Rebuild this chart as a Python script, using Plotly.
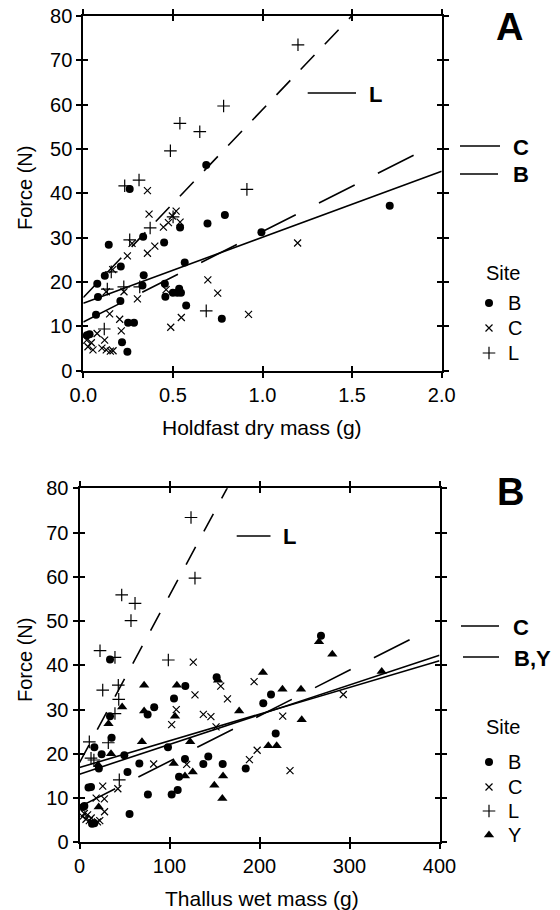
import plotly.graph_objects as go

# ---------------- Panel A data: holdfast dry mass (g) vs force (N) ----------------
A_B_x = [0.02, 0.035, 0.071, 0.078, 0.082, 0.12, 0.142, 0.207, 0.209, 0.216, 0.246, 0.25, 0.283,
         0.259, 0.33, 0.334, 0.337, 0.451, 0.455, 0.458, 0.50, 0.525, 0.535, 0.545, 0.54, 0.566,
         0.574, 0.686, 0.693, 0.773, 0.79, 0.994, 1.71]
A_B_y = [8.0, 8.2, 12.6, 19.6, 16.6, 21.4, 28.4, 15.7, 23.5, 6.4, 4.3, 10.8, 10.8,
         41.0, 19.2, 30.2, 21.5, 28.9, 19.6, 16.7, 17.6, 17.6, 18.5, 17.6, 32.3, 24.4,
         14.7, 46.4, 33.2, 11.7, 35.1, 31.2, 37.2]

A_C_x = [0.019, 0.026, 0.045, 0.054, 0.077, 0.104, 0.119, 0.128, 0.151, 0.166, 0.212, 0.203,
         0.147, 0.128, 0.227, 0.302, 0.164, 0.246, 0.272, 0.358, 0.399, 0.358, 0.367, 0.447,
         0.475, 0.497, 0.518, 0.54, 0.462, 0.488, 0.547, 0.695, 0.75, 0.922, 1.196]
A_C_y = [6.9, 5.4, 6.3, 4.7, 8.4, 5.1, 6.9, 4.7, 4.4, 4.5, 9.0, 11.6,
         12.8, 17.8, 17.8, 16.2, 22.8, 25.9, 28.7, 26.5, 28.1, 40.6, 35.3, 32.4,
         33.4, 34.9, 36.0, 33.5, 18.3, 9.8, 12.0, 20.5, 17.5, 12.7, 28.8]

A_L_x = [0.117, 0.134, 0.156, 0.226, 0.231, 0.259, 0.311, 0.315, 0.373, 0.486, 0.501, 0.539,
         0.65, 0.686, 0.783, 0.913, 1.198]
A_L_y = [9.4, 18.4, 22.3, 18.9, 41.7, 29.5, 43.0, 18.9, 32.2, 49.6, 34.7, 55.8,
         53.9, 13.5, 59.7, 40.9, 73.5]

# regression lines: intercept, slope, x start, x end
A_fit_sites = ["L", "C", "B"]
A_fit_intercept = [16.5, 11.0, 15.2]
A_fit_slope = [42.4, 20.4, 14.9]
A_fit_x0 = [0.0, 0.0, 0.0]
A_fit_x1 = [1.5, 1.85, 2.0]

# ---------------- Panel B data: thallus wet mass (g) vs force (N) ----------------
B_B_x = [4.2, 5.4, 10, 12.8, 13.9, 16.5, 16.5, 21.5, 24.6, 33.9, 33.9, 35.7, 49.8, 53.3, 55.6,
         66.5, 75.7, 76, 83, 98.3, 102.4, 105, 109.1, 110.6, 117.6, 117.2, 137.6, 143.1, 152.4,
         159.1, 184.7, 204.2, 212.8, 218, 268.3]
B_B_y = [8.0, 8.2, 12.4, 12.5, 4.2, 4.3, 21.5, 16.7, 19.9, 41.3, 28.5, 23.6, 19.7, 15.9, 6.4,
         17.8, 28.9, 10.8, 30.5, 21.5, 10.8, 32.5, 11.8, 14.8, 35.3, 18.8, 17.7, 19.4, 37.3,
         17.7, 16.7, 31.4, 33.4, 24.6, 46.7]

B_C_x = [3.5, 5.3, 7.2, 9, 10.9, 13, 18.5, 20, 22.5, 27.8, 27.6, 25.8, 42.6, 82.4, 102.4, 107.5,
         119.1, 126.4, 128.3, 137.6, 146, 151.7, 156.9, 164.4, 188.8, 194, 197.4, 225.8, 233.9, 293.1]
B_C_y = [5.8, 6.5, 5.2, 6.2, 4.9, 5.5, 10.0, 4.6, 4.9, 6.9, 9.8, 12.7, 12.1, 17.7, 26.6, 30.0,
         17.6, 40.7, 33.3, 28.9, 28.4, 26.1, 35.3, 32.4, 18.7, 36.3, 20.8, 28.5, 16.2, 33.4]

B_L_x = [10.9, 12.8, 16, 22.8, 25.8, 32, 39.4, 39.4, 43.1, 43.6, 44.2, 46.9, 57.2, 61.7, 98.7,
         123.9, 128.3]
B_L_y = [22.7, 19.0, 18.6, 43.3, 34.4, 22.5, 29.1, 41.8, 35.5, 32.3, 14.1, 55.9, 50.1, 54.0, 41.2,
         73.4, 59.7]

B_Y_x = [21.3, 20.6, 32.2, 35, 47.4, 69.4, 71.8, 71.8, 104.7, 106.1, 108.2, 117.2, 123, 125.8,
         149.8, 154, 158.7, 159.5, 177.4, 203.8, 209.8, 219.1, 225.5, 246.1, 246.9, 266.1, 280.9, 335.8]
B_Y_y = [8.0, 17.5, 26.8, 20.0, 30.6, 22.7, 29.7, 35.5, 17.8, 28.5, 35.5, 15.0, 22.7, 15.9,
         12.9, 36.6, 9.9, 15.0, 29.7, 38.4, 21.8, 21.8, 34.6, 34.6, 27.7, 45.3, 42.5, 38.6]

B_fit_sites = ["L", "C", "B", "Y"]
B_fit_intercept = [18.0, 8.0, 16.9, 15.4]
B_fit_slope = [0.378, 0.103, 0.0603, 0.0672]
B_fit_x0 = [0.0, 0.0, 0.0, 0.0]
B_fit_x1 = [164.7, 370.0, 400.0, 400.0]

A_xticks = [0.0, 0.5, 1.0, 1.5, 2.0]
B_xticks = [0, 100, 200, 300, 400]
yticks = [0, 10, 20, 30, 40, 50, 60, 70, 80]

# ---------------- styles ----------------
W, H = 560, 910
FONT = "Liberation Sans, Arial, Helvetica, sans-serif"
FS = 20
marker_style = {
    "B": dict(symbol="circle", size=8, color="black", line=dict(width=0)),
    "C": dict(symbol="x-thin", size=7, color="black", line=dict(width=1.2, color="black")),
    "L": dict(symbol="cross-thin", size=9, color="black", line=dict(width=1.2, color="black")),
    "Y": dict(symbol="triangle-up", size=9, color="black", line=dict(width=0)),
}
dash_A = {"L": "20px,15px", "C": "40px,26px", "B": "solid", "Y": "solid"}
dash_B = {"L": "20px,17.5px", "C": "40px,26px", "B": "solid", "Y": "solid"}


def px2fx(px):
    return px / W


def py2fy(py):
    return 1 - py / H


fig = go.Figure()

# scatter points
for name, xs, ys in [("B", A_B_x, A_B_y), ("C", A_C_x, A_C_y), ("L", A_L_x, A_L_y)]:
    fig.add_trace(go.Scatter(x=xs, y=ys, mode="markers", marker=marker_style[name],
                             showlegend=False, xaxis="x", yaxis="y", cliponaxis=False))
for name, xs, ys in [("B", B_B_x, B_B_y), ("C", B_C_x, B_C_y), ("L", B_L_x, B_L_y),
                     ("Y", B_Y_x, B_Y_y)]:
    fig.add_trace(go.Scatter(x=xs, y=ys, mode="markers", marker=marker_style[name],
                             showlegend=False, xaxis="x2", yaxis="y2", cliponaxis=False))

# regression lines
for s, a, b, x0, x1 in zip(A_fit_sites, A_fit_intercept, A_fit_slope, A_fit_x0, A_fit_x1):
    fig.add_trace(go.Scatter(x=[x0, x1], y=[a + b * x0, a + b * x1], mode="lines",
                             line=dict(color="black", width=1.6, dash=dash_A[s]),
                             showlegend=False, xaxis="x", yaxis="y"))
for s, a, b, x0, x1 in zip(B_fit_sites, B_fit_intercept, B_fit_slope, B_fit_x0, B_fit_x1):
    fig.add_trace(go.Scatter(x=[x0, x1], y=[a + b * x0, a + b * x1], mode="lines",
                             line=dict(color="black", width=1.6, dash=dash_B[s]),
                             showlegend=False, xaxis="x2", yaxis="y2"))

# empty traces for the inside-tick overlay axes
fig.add_trace(go.Scatter(x=[], y=[], xaxis="x3", yaxis="y3", showlegend=False))
fig.add_trace(go.Scatter(x=[], y=[], xaxis="x4", yaxis="y4", showlegend=False))

# legend markers (pixel overlay axis)
legA_sites = ["B", "C", "L"]
legA_y = [303, 328, 353]
legB_sites = ["B", "C", "L", "Y"]
legB_y = [762, 787, 811, 835]
for s, yy in zip(legA_sites + legB_sites, legA_y + legB_y):
    fig.add_trace(go.Scatter(x=[489], y=[yy], mode="markers", marker=marker_style[s],
                             showlegend=False, xaxis="x5", yaxis="y5", cliponaxis=False))

# domains
A_x = [px2fx(83.3), px2fx(441.7)]
A_y = [py2fy(370.7), py2fy(16)]
B_x = [px2fx(79.5), px2fx(439.5)]
B_y = [py2fy(842.3), py2fy(488.3)]

tickfont = dict(family=FONT, size=FS, color="black")
common = dict(showgrid=False, zeroline=False, showline=True, linecolor="black", linewidth=2,
              ticks="outside", ticklen=5, tickwidth=1.5, tickcolor="black", mirror="ticks",
              tickfont=tickfont, automargin=False)
inner = dict(showgrid=False, zeroline=False, showline=False, ticks="inside", ticklen=5,
             tickwidth=1.5, tickcolor="black", mirror="ticks", showticklabels=False,
             automargin=False)

fig.update_layout(
    width=W, height=H,
    margin=dict(l=0, r=0, t=0, b=0),
    paper_bgcolor="white", plot_bgcolor="rgba(0,0,0,0)",
    font=dict(family=FONT, color="black"),
    xaxis=dict(domain=A_x, range=[0, 2.0], tickvals=A_xticks, tickformat=".1f", anchor="y", **common),
    yaxis=dict(domain=A_y, range=[0, 80], tickvals=yticks, anchor="x", **common),
    xaxis2=dict(domain=B_x, range=[0, 400], tickvals=B_xticks, anchor="y2", **common),
    yaxis2=dict(domain=B_y, range=[0, 80], tickvals=yticks, anchor="x2", **common),
    xaxis3=dict(domain=A_x, range=[0, 2.0], tickvals=A_xticks, anchor="y3", **inner),
    yaxis3=dict(domain=A_y, range=[0, 80], tickvals=yticks, anchor="x3", **inner),
    xaxis4=dict(domain=B_x, range=[0, 400], tickvals=B_xticks, anchor="y4", **inner),
    yaxis4=dict(domain=B_y, range=[0, 80], tickvals=yticks, anchor="x4", **inner),
    xaxis5=dict(domain=[0, 1], range=[0, W], visible=False, anchor="y5"),
    yaxis5=dict(domain=[0, 1], range=[H, 0], visible=False, anchor="x5"),
)

ann = []


def text(x, y, s, size, bold=False, xanchor="center", angle=0):
    ann.append(dict(x=px2fx(x), y=py2fy(y), xref="paper", yref="paper", text=("<b>%s</b>" % s) if bold else s,
                    showarrow=False, xanchor=xanchor, yanchor="middle", textangle=angle,
                    font=dict(family=FONT, size=size, color="black")))


# axis titles
text(262, 427, "Holdfast dry mass (g)", 21)
text(262, 898, "Thallus wet mass (g)", 21)
text(25, 188, "Force (N)", 20, angle=-90)
text(25, 660, "Force (N)", 20, angle=-90)
# panel letters
text(509, 27, "A", 38, bold=True)
text(510, 492, "B", 38, bold=True)
# line labels
text(367, 95, "L", 22, bold=True, xanchor="left")
text(511, 148, "C", 22, bold=True, xanchor="left")
text(511, 174, "B", 22, bold=True, xanchor="left")
text(281, 536, "L", 22, bold=True, xanchor="left")
text(511, 627, "C", 22, bold=True, xanchor="left")
text(512, 658, "B,Y", 22, bold=True, xanchor="left")
# site legends
text(503, 273, "Site", FS)
for s, yy in zip(legA_sites, legA_y):
    text(506, yy, s, FS, xanchor="left")
text(503, 727, "Site", FS)
for s, yy in zip(legB_sites, legB_y):
    text(506, yy, s, FS, xanchor="left")
fig.update_layout(annotations=ann)

# short line samples next to line labels
shapes = []
for x0, x1, y in [(307.7, 356, 93), (460, 500, 146), (460, 498, 174),
                  (236.7, 270.5, 536), (461, 499, 626), (463, 499, 657)]:
    shapes.append(dict(type="line", xref="paper", yref="paper", x0=px2fx(x0), x1=px2fx(x1),
                       y0=py2fy(y), y1=py2fy(y), line=dict(color="black", width=1.7)))
fig.update_layout(shapes=shapes)

fig.write_html("out.html")
